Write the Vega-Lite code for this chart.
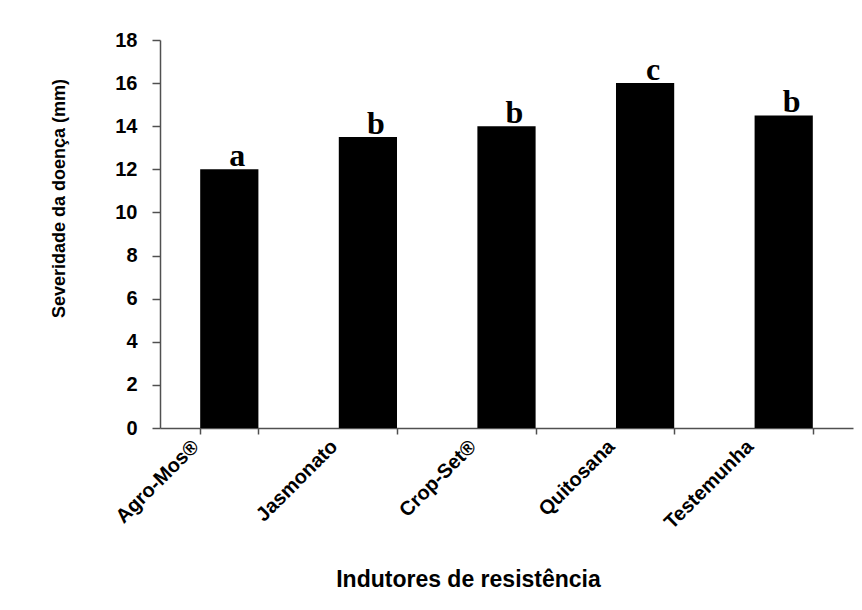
{
  "$schema": "https://vega.github.io/schema/vega-lite/v6.json",
  "autosize": {"type": "none"},
  "padding": {"left": 160, "top": 40, "right": 9, "bottom": 182},
  "width": 693,
  "height": 388,
  "background": "white",
  "config": {"view": {"stroke": null}},
  "data": {"values": [
    {"indutor": "Agro-Mos®", "severidade": 12.0, "letra": "a"},
    {"indutor": "Jasmonato", "severidade": 13.5, "letra": "b"},
    {"indutor": "Crop-Set®", "severidade": 14.0, "letra": "b"},
    {"indutor": "Quitosana", "severidade": 16.0, "letra": "c"},
    {"indutor": "Testemunha", "severidade": 14.5, "letra": "b"}
  ]},
  "encoding": {
    "x": {
      "field": "indutor", "type": "nominal", "sort": null,
      "scale": {"paddingInner": 0.58, "paddingOuter": 0.29},
      "axis": {
        "title": "Indutores de resistência",
        "titleFont": "Liberation Sans", "titleFontSize": 23, "titleFontWeight": "bold",
        "titleColor": "black", "titlePadding": 36,
        "titleAnchor": "middle", "titleX": 308,
        "labelAngle": -45, "labelFont": "Liberation Sans", "labelFontSize": 20,
        "labelFontWeight": "bold", "labelColor": "black", "labelOffset": -41,
        "labelPadding": 2,
        "tickBand": "extent", "tickSize": 6, "tickColor": "#505050", "tickWidth": 1.5,
        "domainColor": "#505050", "domainWidth": 1.5, "grid": false
      }
    },
    "y": {
      "field": "severidade", "type": "quantitative",
      "scale": {"domain": [0, 18]},
      "axis": {
        "title": "Severidade da doença (mm)",
        "titleFont": "Liberation Sans", "titleFontSize": 18, "titleFontWeight": "bold",
        "titleColor": "black", "titleAnchor": "middle", "titleY": 158, "titlePadding": 46,
        "values": [0, 2, 4, 6, 8, 10, 12, 14, 16, 18],
        "labelFont": "Liberation Sans", "labelFontSize": 20, "labelFontWeight": "bold",
        "labelColor": "black", "labelPadding": 15,
        "tickSize": 8, "tickColor": "#505050", "tickWidth": 1.5,
        "domainColor": "#505050", "domainWidth": 1.5, "grid": false
      }
    }
  },
  "layer": [
    {"mark": {"type": "bar", "color": "black"}},
    {
      "mark": {"type": "text", "font": "Liberation Serif", "fontWeight": "bold", "fontSize": 32,
               "baseline": "alphabetic", "dy": -3, "dx": 8, "color": "black"},
      "encoding": {"text": {"field": "letra"}}
    }
  ]
}
